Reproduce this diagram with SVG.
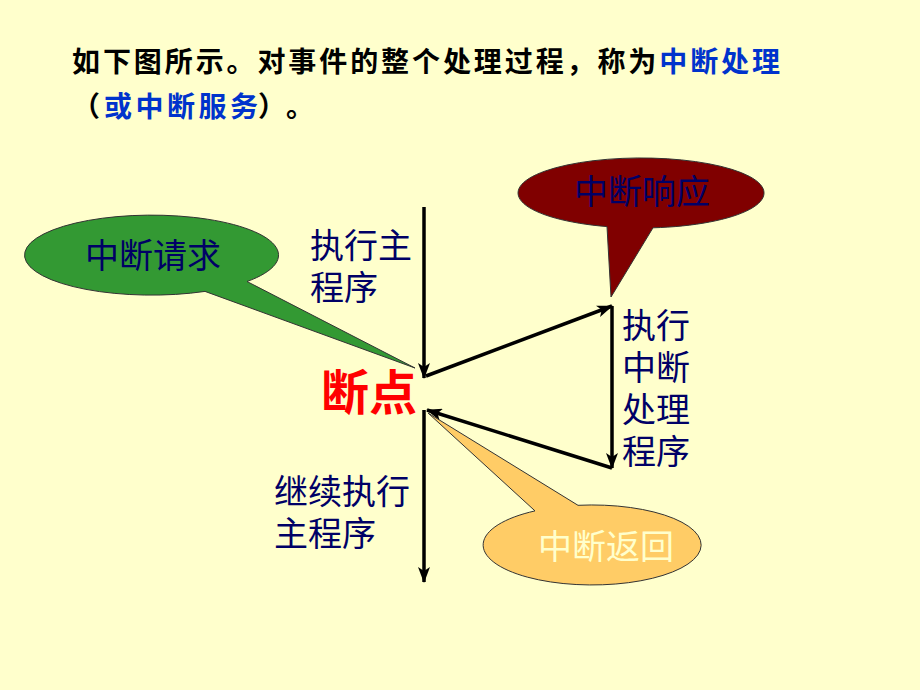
<svg xmlns="http://www.w3.org/2000/svg" width="920" height="690" viewBox="0 0 920 690">
<defs>
<marker id="ah" markerUnits="userSpaceOnUse" markerWidth="16" markerHeight="12" viewBox="0 0 16 12" refX="15" refY="6" orient="auto">
<path d="M0,0 L16,6 L0,12 L4,6 Z" fill="#000"/>
</marker>
<style>
.t{font-family:"Noto Sans CJK SC","Liberation Sans",sans-serif;}
.title{font-size:28px;font-weight:bold;fill:#000;}
.blue{fill:#0033CC;}
.lbl{font-size:34px;fill:#000066;}
.edge{stroke:#000;stroke-width:3.5;fill:none;marker-end:url(#ah);}
.co{stroke:#333;stroke-width:1;}
</style>
</defs>
<rect width="920" height="690" fill="#FFFFCC"/>
<g id="title">
<text class="t title" x="72" y="72" textLength="708" lengthAdjust="spacing">如下图所示。对事件的整个处理过程，称为<tspan class="blue">中断处理</tspan></text>
<text class="t title" x="72" y="117">（<tspan class="blue" x="104" textLength="154" lengthAdjust="spacing">或中断服务</tspan><tspan x="258">）</tspan><tspan x="286">。</tspan></text>
</g>
<g id="connectors">
<line class="edge" x1="424" y1="207" x2="424" y2="378"/>
<line class="edge" x1="426" y1="376" x2="612" y2="306"/>
<line class="edge" x1="612" y1="306" x2="612" y2="468"/>
<line class="edge" x1="612" y1="468" x2="427" y2="410"/>
<line class="edge" x1="424" y1="410" x2="424" y2="582"/>
</g>
<g id="req">
<path class="co" d="M247,281.5 A127,40 0 1 0 205,291.4 L415,368 Z" fill="#339933"/>
<text class="t lbl" x="153" y="268" text-anchor="middle">中断请求</text>
</g>
<g id="resp">
<path class="co" d="M653,227.8 A123,35 0 1 0 607,226.6 L611,297 Z" fill="#800000"/>
<text class="t lbl" x="642" y="204" text-anchor="middle">中断响应</text>
</g>
<g id="ret">
<path class="co" d="M535,510.9 A109,40 0 1 0 578,505.3 L428,413 Z" fill="#FFCC66"/>
<text class="t lbl" x="606" y="559" text-anchor="middle" style="fill:#FFFFCC">中断返回</text>
</g>
<g id="main">
<text class="t lbl" x="310" y="258">执行主<tspan x="310" dy="42">程序</tspan></text>
</g>
<g id="bp">
<text class="t" x="369" y="410" text-anchor="middle" font-size="48" font-weight="bold" fill="#FF0000">断点</text>
</g>
<g id="isr">
<text class="t lbl" x="622" y="338">执行<tspan x="622" dy="42">中断</tspan><tspan x="622" dy="42">处理</tspan><tspan x="622" dy="42">程序</tspan></text>
</g>
<g id="cont">
<text class="t lbl" x="274" y="504">继续执行<tspan x="274" dy="42">主程序</tspan></text>
</g>
</svg>
